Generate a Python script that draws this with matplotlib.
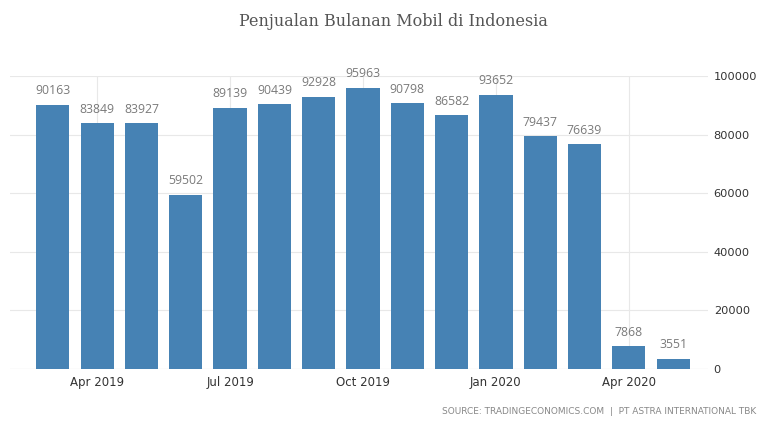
import matplotlib
matplotlib.use('Agg')
import matplotlib.pyplot as plt
import numpy as np

# data
months = ['Mar 2019','Apr 2019','May 2019','Jun 2019','Jul 2019','Aug 2019','Sep 2019',
          'Oct 2019','Nov 2019','Dec 2019','Jan 2020','Feb 2020','Mar 2020','Apr 2020','May 2020']
sales = [90163, 83849, 83927, 59502, 89139, 90439, 92928,
         95963, 90798, 86582, 93652, 79437, 76639, 7868, 3551]
tick_months = ['Apr 2019','Jul 2019','Oct 2019','Jan 2020','Apr 2020']
yticks = [0, 20000, 40000, 60000, 80000, 100000]

fig = plt.figure(figsize=(7.59, 4.21), dpi=100)
ax = fig.add_axes([0.013, 0.1235, 0.92, 0.696])

x = np.arange(len(sales))
ax.bar(x, sales, width=0.75, color='#4682b4', zorder=2)
for i, v in enumerate(sales):
    ax.text(i, v + 2500, str(v), ha='center', va='bottom', fontsize=8.8,
            color='#7a7a7a', family='Open Sans')

tpos = [months.index(m) for m in tick_months]
ax.set_xticks(tpos)
ax.set_xticklabels(tick_months, fontsize=8.5, color='#333333', family='DejaVu Sans')
ax.set_xlim(-0.97, 14.79)
ax.set_ylim(0, 100000)
ax.set_yticks(yticks)
ax.set_yticklabels([str(t) for t in yticks], fontsize=8.2, color='#333333', family='DejaVu Sans')
ax.yaxis.tick_right()
ax.tick_params(axis='y', length=0, pad=4)
ax.tick_params(axis='x', length=0, pad=5)
ax.grid(True, color='#e8e8e8', linewidth=0.8, zorder=0)
for s in ax.spines.values():
    s.set_visible(False)
ax.axhline(0, color='#dddddd', linewidth=0.8, zorder=1)

fig.text(0.518, 0.948, 'Penjualan Bulanan Mobil di Indonesia', ha='center', va='center',
         fontsize=11.5, color='#555555', family='DejaVu Serif')
fig.text(0.997, 0.022, 'SOURCE: TRADINGECONOMICS.COM  |  PT ASTRA INTERNATIONAL TBK',
         ha='right', va='center', fontsize=6.5, color='#888888', family='DejaVu Sans')

fig.savefig('out.png', dpi=100)
